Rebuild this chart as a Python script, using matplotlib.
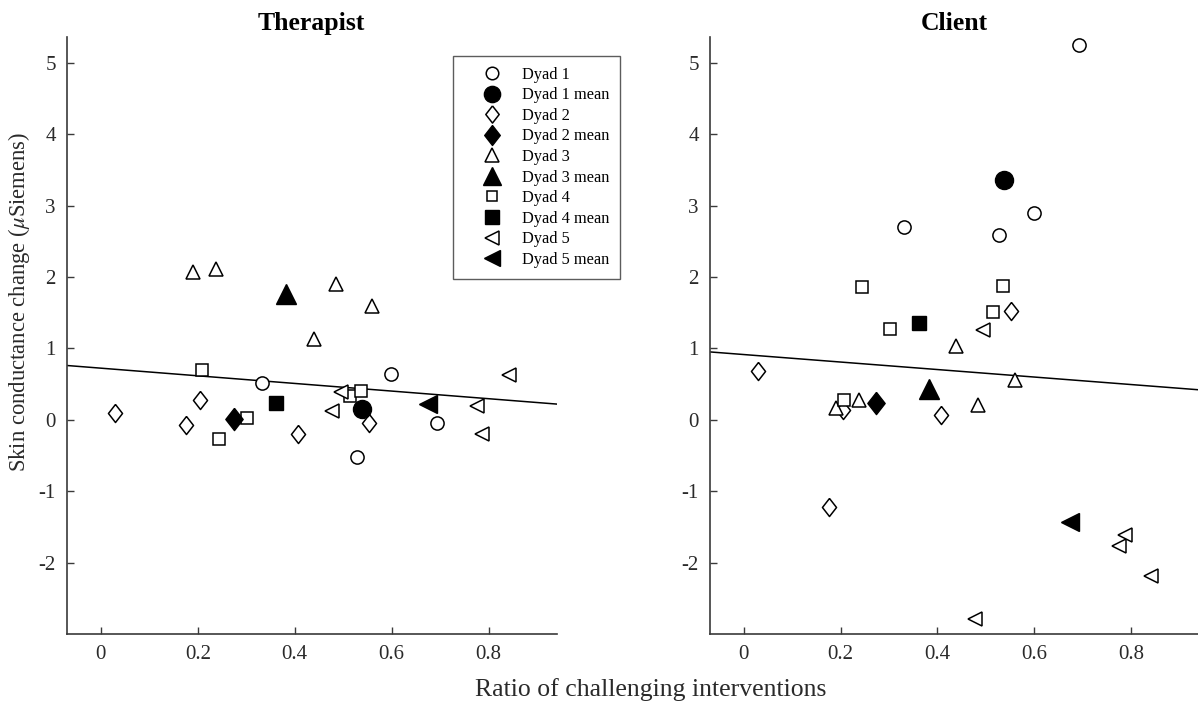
import matplotlib
matplotlib.use("Agg")
import matplotlib.pyplot as plt
from matplotlib.lines import Line2D

plt.rcParams['font.family'] = ['Liberation Serif', 'DejaVu Serif']
plt.rcParams['mathtext.fontset'] = 'stix'
plt.rcParams['axes.unicode_minus'] = False

# ---- data ----
dyad_names = ["Dyad 1", "Dyad 2", "Dyad 3", "Dyad 4", "Dyad 5"]

d1_x = [0.332, 0.599, 0.693, 0.528]
d1_ther = [0.52, 0.64, -0.04, -0.52]
d1_client = [2.70, 2.89, 5.25, 2.59]

d2_x = [0.030, 0.205, 0.175, 0.407, 0.553]
d2_ther = [0.10, 0.28, -0.07, -0.20, -0.04]
d2_client = [0.68, 0.13, -1.22, 0.07, 1.53]

d3_x = [0.190, 0.238, 0.439, 0.485, 0.560]
d3_ther = [2.07, 2.11, 1.13, 1.90, 1.60]
d3_client = [0.16, 0.27, 1.03, 0.21, 0.55]

d4_x = [0.208, 0.244, 0.302, 0.514, 0.536]
d4_ther = [0.70, -0.27, 0.03, 0.33, 0.40]
d4_client = [0.27, 1.86, 1.27, 1.51, 1.87]

d5_x = [0.477, 0.495, 0.776, 0.787, 0.842]
d5_ther = [0.12, 0.39, 0.19, -0.20, 0.62]
d5_client = [-2.79, 1.26, -1.77, -1.61, -2.19]

mean_x = [0.538, 0.274, 0.382, 0.361, 0.675]
mean_ther = [0.15, 0.01, 1.76, 0.23, 0.22]
mean_client = [3.36, 0.23, 0.43, 1.36, -1.43]

fit_x = [-0.07, 0.94]
fit_ther = [0.76, 0.22]
fit_client = [0.95, 0.42]

x_ticks = [0, 0.2, 0.4, 0.6, 0.8]
x_ticklabels = ["0", "0.2", "0.4", "0.6", "0.8"]
y_ticks = [-2, -1, 0, 1, 2, 3, 4, 5]

# ---- styles ----
diamond = [(0, 1), (0.78, 0), (0, -1), (-0.78, 0), (0, 1)]
markers = ['o', diamond, '^', 's', '<']
open_ms = [9.5, 13, 10.5, 8.0, 10.5]
mean_ms = [13, 16, 14, 10.5, 13.5]

W, H = 1198, 704
fig = plt.figure(figsize=(W / 100, H / 100), dpi=100)
ax_left = fig.add_axes([66.9 / W, 1 - 634 / H, 489.6 / W, 597 / H])
ax_right = fig.add_axes([710 / W, 1 - 634 / H, 488.6 / W, 597 / H])

axis_col = '#3a3a3a'
text_col = '#2a2a2a'

panels = [
    (ax_left, "Therapist", [d1_ther, d2_ther, d3_ther, d4_ther, d5_ther], mean_ther, fit_ther),
    (ax_right, "Client", [d1_client, d2_client, d3_client, d4_client, d5_client], mean_client, fit_client),
]
xs = [d1_x, d2_x, d3_x, d4_x, d5_x]

for ax, title, ys, means, fit in panels:
    ax.plot(fit_x, fit, color='black', lw=1.1, zorder=1)
    for i in range(5):
        ax.plot(xs[i], ys[i], linestyle='none', marker=markers[i], ms=open_ms[i],
                mfc='white', mec='black', mew=1.1, zorder=3)
        ax.plot([mean_x[i]], [means[i]], linestyle='none', marker=markers[i], ms=mean_ms[i],
                mfc='black', mec='black', mew=1.0, zorder=4)
    ax.set_xlim(-0.07, 0.94)
    ax.set_ylim(-3, 5.36)
    ax.set_xticks(x_ticks)
    ax.set_xticklabels(x_ticklabels)
    ax.set_yticks(y_ticks)
    ax.tick_params(direction='in', length=5, width=1.0, colors=axis_col,
                   labelcolor=text_col, labelsize=15, pad=8)
    for s in ['top', 'right']:
        ax.spines[s].set_visible(False)
    for s in ['left', 'bottom']:
        ax.spines[s].set_color(axis_col)
        ax.spines[s].set_linewidth(1.2)
    ax.set_title(title, fontsize=18.5, fontweight='bold', pad=5)

fig.text(19 / W, 1 - 302 / H, r"Skin conductance change ($\mu$Siemens)", rotation=90,
         ha='center', va='center', fontsize=16.3, color=text_col)
fig.text(651 / W, 1 - 690 / H, "Ratio of challenging interventions", ha='center', va='center',
         fontsize=18.5, color=text_col)

# legend
handles = []
labels = []
for i in range(5):
    handles.append(Line2D([], [], linestyle='none', marker=markers[i], ms=open_ms[i] * 0.95,
                          mfc='white', mec='black', mew=1.1))
    labels.append(dyad_names[i])
    handles.append(Line2D([], [], linestyle='none', marker=markers[i], ms=mean_ms[i] * 0.9,
                          mfc='black', mec='black'))
    labels.append(dyad_names[i] + " mean")

leg = fig.legend(handles, labels, loc='upper left', bbox_to_anchor=(453 / W, 1 - 56 / H),
                 bbox_transform=fig.transFigure, fontsize=11.8, frameon=True, fancybox=False,
                 edgecolor='#333333', handlelength=3.4, handletextpad=0.15, labelspacing=0.28,
                 borderpad=0.65, borderaxespad=0)
leg.get_frame().set_linewidth(1.0)

fig.savefig("out.png", dpi=100)
